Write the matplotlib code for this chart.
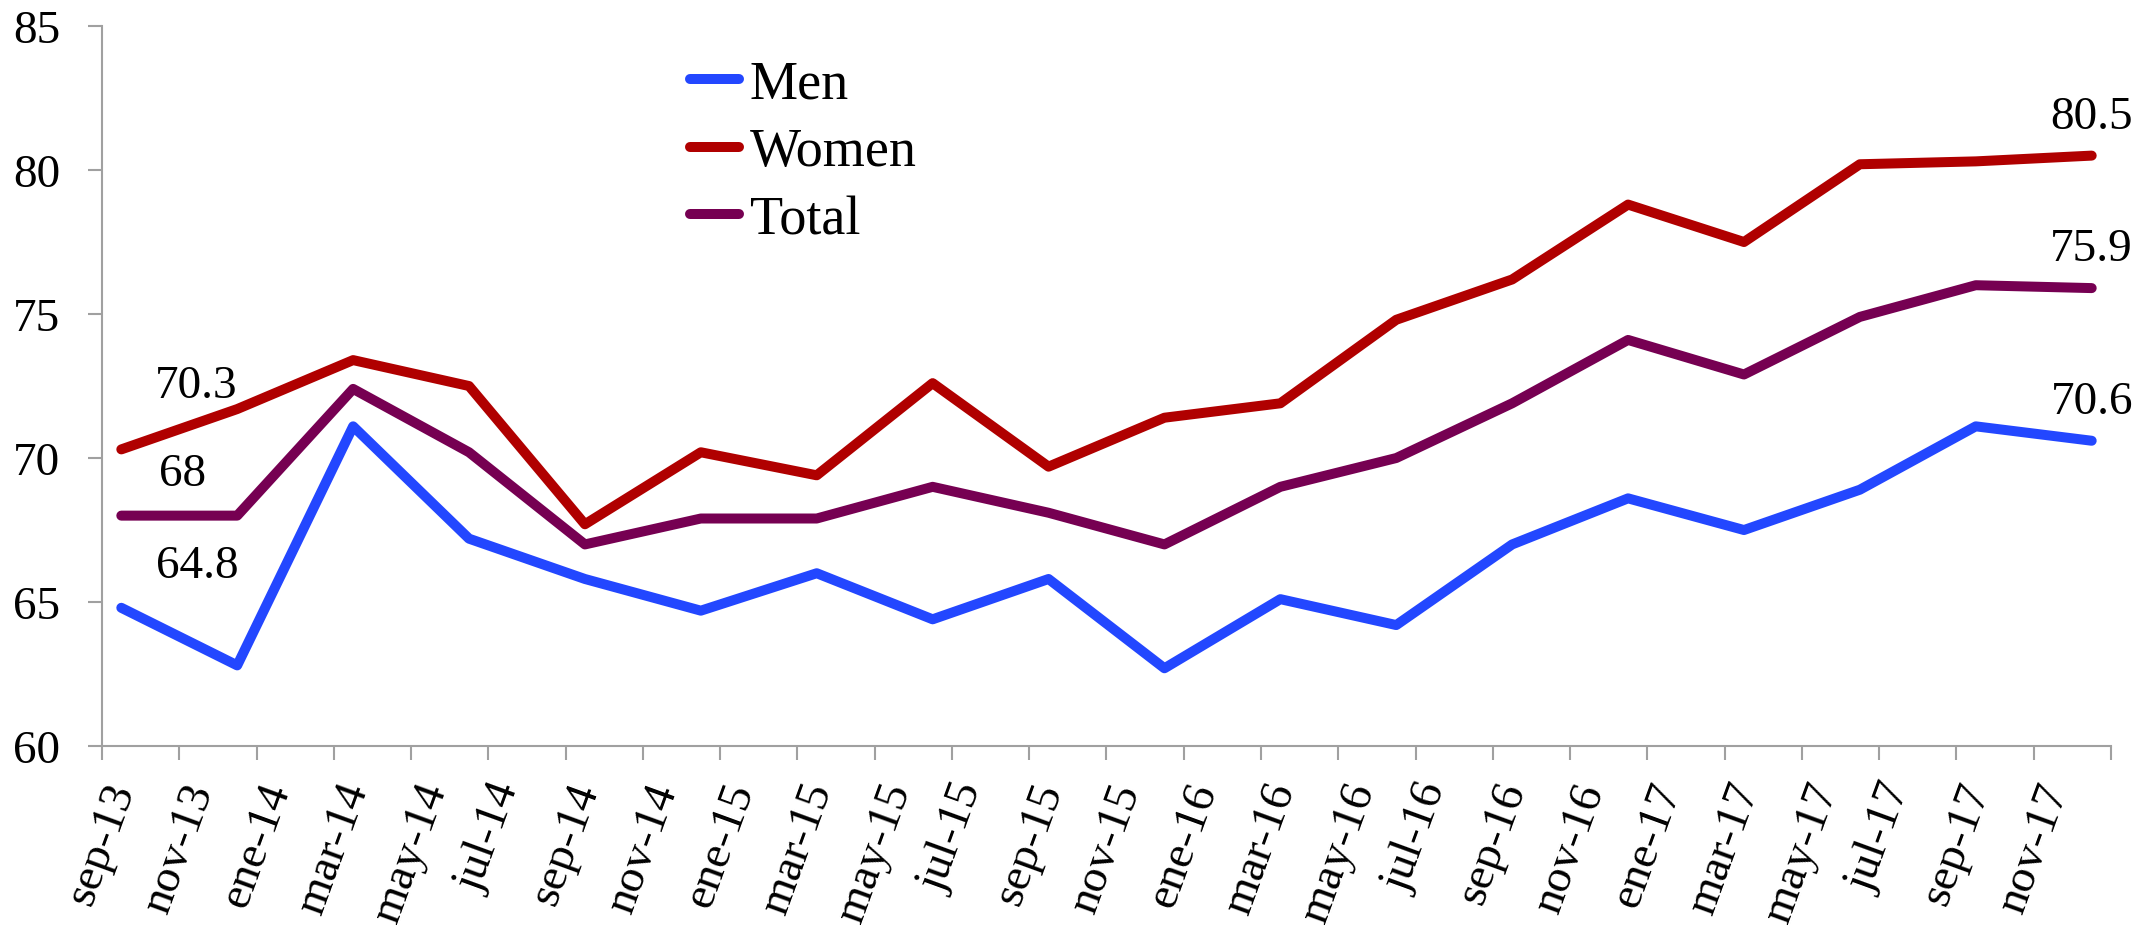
import matplotlib
matplotlib.use("Agg")
import matplotlib.pyplot as plt
from matplotlib.transforms import ScaledTranslation

# quarterly observations, sep-13 .. dic-17 (position = months since sep-13)
quarters = ["sep-13", "dic-13", "mar-14", "jun-14", "sep-14", "dic-14", "mar-15", "jun-15", "sep-15",
            "dic-15", "mar-16", "jun-16", "sep-16", "dic-16", "mar-17", "jun-17", "sep-17", "dic-17"]
month_idx = [0, 3, 6, 9, 12, 15, 18, 21, 24, 27, 30, 33, 36, 39, 42, 45, 48, 51]
men = [64.8, 62.8, 71.1, 67.2, 65.8, 64.7, 66.0, 64.4, 65.8, 62.7, 65.1, 64.2, 67.0, 68.6, 67.5, 68.9, 71.1, 70.6]
women = [70.3, 71.7, 73.4, 72.5, 67.7, 70.2, 69.4, 72.6, 69.7, 71.4, 71.9, 74.8, 76.2, 78.8, 77.5, 80.2, 80.3, 80.5]
total = [68.0, 68.0, 72.4, 70.2, 67.0, 67.9, 67.9, 69.0, 68.1, 67.0, 69.0, 70.0, 71.9, 74.1, 72.9, 74.9, 76.0, 75.9]

# axis labels every two months
xlabels = ["sep-13", "nov-13", "ene-14", "mar-14", "may-14", "jul-14", "sep-14", "nov-14", "ene-15",
           "mar-15", "may-15", "jul-15", "sep-15", "nov-15", "ene-16", "mar-16", "may-16", "jul-16",
           "sep-16", "nov-16", "ene-17", "mar-17", "may-17", "jul-17", "sep-17", "nov-17"]

plt.rcParams['font.family'] = ['Liberation Serif', 'DejaVu Serif']

fig = plt.figure(figsize=(21.54, 9.28), dpi=100)
ax = fig.add_axes([0.04735, 0.195, 0.93269, 0.7759])

x = [m + 0.5 for m in month_idx]
series = [("Men", men, "#2347FF"), ("Women", women, "#B00000"), ("Total", total, "#760052")]
for name, vals, col in series:
    ax.plot(x, vals, color=col, linewidth=7.2, label=name,
            solid_capstyle='round', solid_joinstyle='round')

# value labels at first and last point
fs = 34
ax.annotate("70.3", (x[0], women[0]), xytext=(54, 46), textcoords='offset points',
            ha='center', va='center', fontsize=fs)
ax.annotate("68", (x[0], total[0]), xytext=(44, 30), textcoords='offset points',
            ha='center', va='center', fontsize=fs)
ax.annotate("64.8", (x[0], men[0]), xytext=(55, 30), textcoords='offset points',
            ha='center', va='center', fontsize=fs)
for vals in (women, total, men):
    ax.annotate(f"{vals[-1]:.1f}", (x[-1], vals[-1]), xytext=(0, 28), textcoords='offset points',
                ha='center', va='center', fontsize=fs)

ax.set_xlim(0, 52)
ax.set_ylim(60, 85)
ax.set_yticks([60, 65, 70, 75, 80, 85])
ax.set_xticks(range(0, 53, 2))
ax.set_xticklabels(xlabels + [""], rotation=70, fontsize=fs)
shift = ScaledTranslation(4 / 100, 0, fig.dpi_scale_trans)
for lab in ax.get_xticklabels():
    lab.set_transform(lab.get_transform() + shift)

gray = "#A0A0A0"
for s in ("top", "right"):
    ax.spines[s].set_visible(False)
for s in ("left", "bottom"):
    ax.spines[s].set_color(gray)
    ax.spines[s].set_linewidth(1.5)
ax.tick_params(axis='both', direction='out', length=10, width=1.5, color=gray, labelsize=fs)
ax.tick_params(axis='y', pad=20)
ax.tick_params(axis='x', pad=12)

ax.legend(loc='upper left', bbox_to_anchor=(0.2927, 0.954), frameon=False, fontsize=39,
          handlelength=0.9, handletextpad=0.2, labelspacing=0.32, borderpad=0, borderaxespad=0)

fig.savefig("out.png", dpi=100)
